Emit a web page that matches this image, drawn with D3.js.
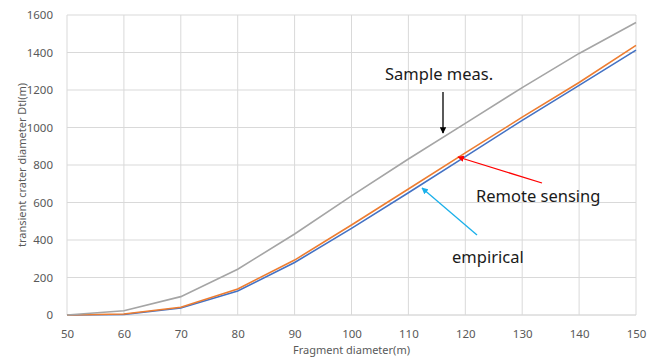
<!DOCTYPE html>
<html>
<head>
<meta charset="utf-8">
<script src="https://cdn.jsdelivr.net/npm/d3@7/dist/d3.min.js"></script>
<style>
  body { margin: 0; background: #fff; }
  text { font-family: "Noto Sans", "Open Sans", sans-serif; }
</style>
</head>
<body>
<div id="chart"></div>
<script>
var diameters = [50, 60, 70, 80, 90, 100, 110, 120, 130, 140, 150];
var empirical = [0, 3, 37, 128, 280, 462, 652, 845, 1038, 1225, 1413];
var remote = [0, 5, 41, 139, 293, 480, 672, 865, 1055, 1240, 1438];
var sample = [0, 23, 98, 244, 432, 635, 832, 1022, 1213, 1395, 1560];
var yTicks = [0, 200, 400, 600, 800, 1000, 1200, 1400, 1600];

var width = 653, height = 358;
var margin = {top: 15, right: 17, bottom: 43, left: 67};

var svg = d3.select("#chart").append("svg")
    .attr("width", width)
    .attr("height", height);

var x = d3.scaleLinear().domain([50, 150]).range([margin.left, width - margin.right]);
var y = d3.scaleLinear().domain([0, 1600]).range([height - margin.bottom, margin.top]);

// grid
svg.append("g").selectAll("line").data(yTicks).enter().append("line")
    .attr("x1", x(50)).attr("x2", x(150))
    .attr("y1", d => y(d)).attr("y2", d => y(d))
    .attr("stroke", d => d == 0 ? "#c8c8c8" : "#d9d9d9").attr("stroke-width", 1);
svg.append("g").selectAll("line").data(diameters).enter().append("line")
    .attr("x1", d => x(d)).attr("x2", d => x(d))
    .attr("y1", y(0)).attr("y2", y(1600))
    .attr("stroke", "#d9d9d9").attr("stroke-width", 1);

// axes (text only)
var yAxis = svg.append("g").attr("transform", "translate(" + x(50) + ",0)")
    .call(d3.axisLeft(y).tickValues(yTicks).tickFormat(d3.format("d")).tickSize(0).tickPadding(14));
var xAxis = svg.append("g").attr("transform", "translate(0," + y(0) + ")")
    .call(d3.axisBottom(x).tickValues(diameters).tickFormat(d3.format("d")).tickSize(0).tickPadding(15));
[yAxis, xAxis].forEach(function(a){
  a.select(".domain").remove();
  a.selectAll("text").attr("fill", "#595959").style("font-size", "11.5px")
    .style("font-family", "'Noto Sans', sans-serif");
});

svg.append("text")
    .attr("x", (x(50) + x(150)) / 2).attr("y", 354)
    .attr("text-anchor", "middle").attr("fill", "#595959")
    .style("font-size", "11px")
    .text("Fragment diameter(m)");
svg.append("text")
    .attr("transform", "translate(26," + ((y(0) + y(1600)) / 2) + ") rotate(-90)")
    .attr("text-anchor", "middle").attr("fill", "#595959")
    .style("font-size", "11px")
    .text("transient crater diameter Dtl(m)");

// lines
var line = d3.line().x((d, i) => x(diameters[i])).y(d => y(d));
var series = [
  {name: "empirical", values: empirical, color: "#4472c4"},
  {name: "remote", values: remote, color: "#ed7d31"},
  {name: "sample", values: sample, color: "#a5a5a5"}
];
svg.append("g").selectAll("path").data(series).enter().append("path")
    .attr("d", d => line(d.values))
    .attr("fill", "none")
    .attr("stroke", d => d.color)
    .attr("stroke-width", 1.6);

// annotations
var defs = svg.append("defs");
["#000000", "#ff0000", "#1ab0ea"].forEach(function(c, i){
  defs.append("marker").attr("id", "ah" + i)
    .attr("viewBox", "0 0 10 10").attr("refX", 9).attr("refY", 5)
    .attr("markerWidth", 5).attr("markerHeight", 5).attr("orient", "auto")
    .append("path").attr("d", "M0,0L10,5L0,10z").attr("fill", c);
});
var arrows = [
  {x1: 443, y1: 92, x2: 443, y2: 133, c: 0},
  {x1: 542, y1: 183, x2: 458, y2: 157, c: 1},
  {x1: 477, y1: 235, x2: 422, y2: 188, c: 2}
];
var cols = ["#000000", "#ff0000", "#1ab0ea"];
svg.append("g").selectAll("line").data(arrows).enter().append("line")
    .attr("x1", d => d.x1).attr("y1", d => d.y1)
    .attr("x2", d => d.x2).attr("y2", d => d.y2)
    .attr("stroke", d => cols[d.c]).attr("stroke-width", 1.3)
    .attr("marker-end", d => "url(#ah" + d.c + ")");

var notes = [
  {t: "Sample meas.", x: 385, y: 80},
  {t: "Remote sensing", x: 476, y: 202},
  {t: "empirical", x: 452, y: 263}
];
svg.append("g").selectAll("text").data(notes).enter().append("text")
    .attr("x", d => d.x).attr("y", d => d.y)
    .attr("fill", "#1a1a1a")
    .style("font-size", "16.5px")
    .text(d => d.t);
</script>
</body>
</html>
